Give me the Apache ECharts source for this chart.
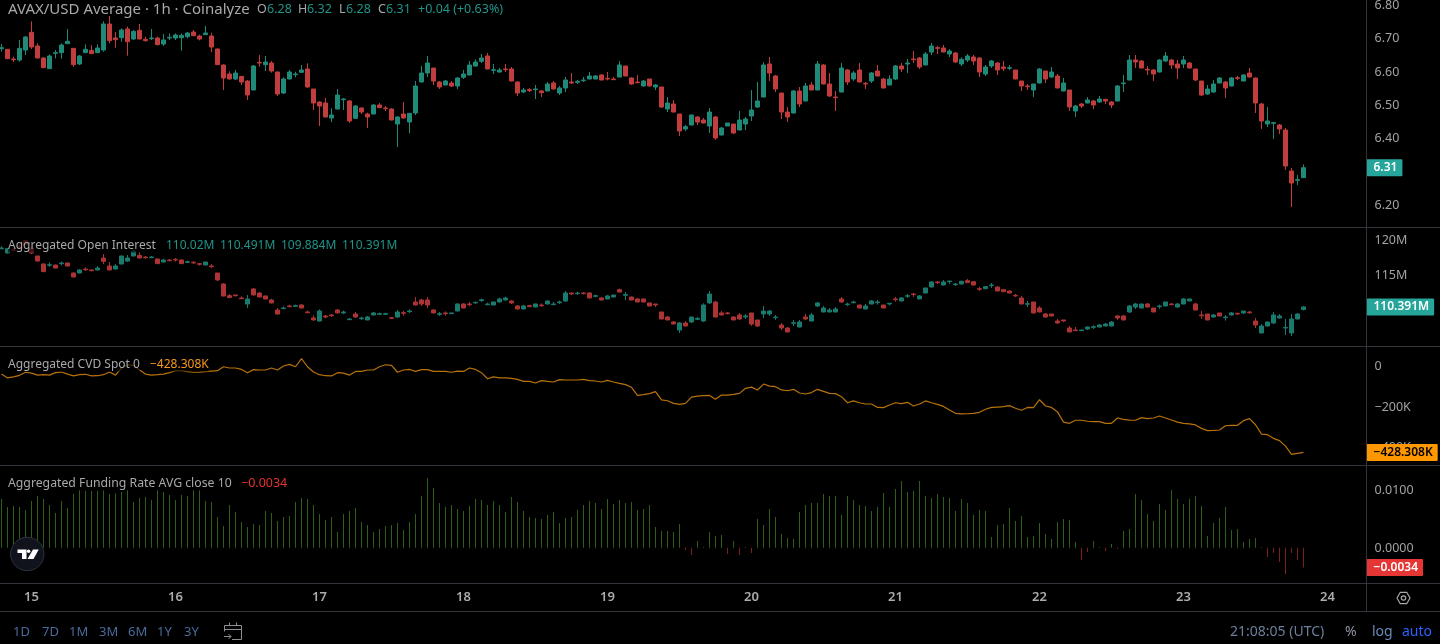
<!DOCTYPE html>
<html>
<head>
<meta charset="utf-8">
<title>AVAX/USD Average</title>
<script src="https://cdn.jsdelivr.net/npm/echarts@6/dist/echarts.min.js"></script>
<style>
html,body{margin:0;padding:0;background:#000;overflow:hidden}
#chart{width:1440px;height:644px}
</style>
</head>
<body>
<div id="chart"></div>
<script>
// Hourly candles, each row is [open, close, low, high]
const priceOHLC = [
[6.667,6.670,6.658,6.681],[6.665,6.637,6.636,6.665],[6.636,6.634,6.627,6.643],[6.633,6.668,6.628,6.693],[6.663,6.702,6.648,6.705],[6.716,6.672,6.666,6.749],[6.675,6.639,6.638,6.683],[6.639,6.610,6.609,6.641],[6.607,6.645,6.606,6.650],[6.653,6.655,6.638,6.663],
[6.655,6.678,6.637,6.683],[6.682,6.689,6.681,6.726],[6.668,6.619,6.613,6.669],[6.621,6.645,6.618,6.648],[6.655,6.665,6.654,6.680],[6.662,6.652,6.651,6.677],[6.655,6.669,6.654,6.680],[6.663,6.741,6.658,6.749],[6.741,6.691,6.683,6.765],[6.699,6.694,6.670,6.717],
[6.700,6.723,6.688,6.728],[6.726,6.688,6.646,6.733],[6.696,6.719,6.693,6.723],[6.722,6.696,6.695,6.741],[6.695,6.691,6.688,6.703],[6.697,6.699,6.693,6.726],[6.699,6.679,6.677,6.703],[6.681,6.693,6.675,6.711],[6.699,6.701,6.693,6.713],[6.699,6.708,6.693,6.713],
[6.700,6.707,6.661,6.713],[6.703,6.714,6.698,6.717],[6.717,6.706,6.705,6.723],[6.705,6.696,6.692,6.709],[6.709,6.714,6.708,6.735],[6.705,6.672,6.657,6.715],[6.666,6.619,6.618,6.668],[6.618,6.579,6.543,6.620],[6.591,6.576,6.575,6.599],[6.576,6.594,6.573,6.603],
[6.584,6.567,6.558,6.585],[6.570,6.528,6.513,6.573],[6.543,6.615,6.543,6.618],[6.626,6.624,6.613,6.648],[6.619,6.627,6.600,6.645],[6.624,6.600,6.595,6.630],[6.597,6.531,6.525,6.598],[6.534,6.576,6.531,6.581],[6.576,6.597,6.575,6.603],[6.589,6.591,6.581,6.598],
[6.596,6.603,6.595,6.618],[6.606,6.552,6.550,6.623],[6.546,6.504,6.483,6.546],[6.507,6.495,6.435,6.509],[6.504,6.462,6.461,6.519],[6.459,6.468,6.447,6.488],[6.486,6.528,6.485,6.546],[6.514,6.516,6.483,6.519],[6.510,6.450,6.444,6.513],[6.458,6.495,6.456,6.497],
[6.489,6.477,6.471,6.491],[6.471,6.462,6.429,6.475],[6.471,6.498,6.470,6.501],[6.498,6.490,6.489,6.504],[6.489,6.487,6.480,6.495],[6.486,6.453,6.452,6.488],[6.441,6.462,6.372,6.465],[6.471,6.459,6.458,6.507],[6.447,6.473,6.413,6.473],[6.474,6.555,6.468,6.570],
[6.567,6.594,6.566,6.615],[6.594,6.624,6.582,6.645],[6.609,6.570,6.558,6.609],[6.567,6.552,6.546,6.570],[6.558,6.570,6.557,6.573],[6.564,6.555,6.552,6.570],[6.555,6.579,6.546,6.581],[6.581,6.591,6.576,6.603],[6.588,6.618,6.587,6.630],[6.615,6.627,6.613,6.635],
[6.629,6.639,6.624,6.651],[6.645,6.606,6.605,6.654],[6.602,6.604,6.591,6.621],[6.597,6.603,6.595,6.609],[6.606,6.604,6.597,6.621],[6.606,6.570,6.569,6.612],[6.567,6.534,6.525,6.569],[6.537,6.543,6.534,6.549],[6.544,6.541,6.537,6.549],[6.544,6.546,6.516,6.558],
[6.540,6.535,6.522,6.543],[6.540,6.561,6.539,6.567],[6.564,6.546,6.545,6.570],[6.534,6.549,6.528,6.555],[6.549,6.573,6.537,6.582],[6.567,6.564,6.561,6.594],[6.566,6.569,6.561,6.573],[6.571,6.573,6.567,6.582],[6.576,6.585,6.575,6.597],[6.576,6.585,6.575,6.588],
[6.588,6.573,6.572,6.591],[6.578,6.576,6.572,6.597],[6.576,6.574,6.573,6.582],[6.582,6.618,6.581,6.630],[6.615,6.585,6.584,6.615],[6.579,6.561,6.558,6.581],[6.567,6.565,6.563,6.588],[6.555,6.570,6.554,6.573],[6.576,6.555,6.554,6.576],[6.552,6.558,6.543,6.561],
[6.552,6.492,6.489,6.552],[6.486,6.504,6.477,6.522],[6.501,6.477,6.476,6.513],[6.471,6.420,6.405,6.471],[6.426,6.433,6.420,6.438],[6.438,6.468,6.437,6.470],[6.462,6.447,6.438,6.465],[6.453,6.444,6.443,6.459],[6.435,6.477,6.414,6.489],[6.462,6.399,6.393,6.465],
[6.408,6.429,6.407,6.432],[6.435,6.444,6.435,6.444],[6.441,6.414,6.411,6.441],[6.423,6.453,6.422,6.480],[6.441,6.456,6.423,6.462],[6.465,6.483,6.450,6.543],[6.492,6.510,6.489,6.567],[6.522,6.618,6.521,6.627],[6.621,6.594,6.570,6.642],[6.585,6.546,6.537,6.588],
[6.534,6.477,6.456,6.534],[6.477,6.462,6.447,6.492],[6.474,6.540,6.473,6.543],[6.540,6.501,6.492,6.552],[6.510,6.555,6.509,6.564],[6.558,6.543,6.542,6.567],[6.543,6.621,6.542,6.630],[6.618,6.561,6.560,6.621],[6.561,6.525,6.522,6.594],[6.522,6.520,6.480,6.540],
[6.537,6.609,6.536,6.624],[6.603,6.567,6.558,6.606],[6.576,6.594,6.570,6.600],[6.603,6.567,6.566,6.624],[6.563,6.561,6.546,6.567],[6.570,6.594,6.564,6.597],[6.600,6.585,6.584,6.618],[6.576,6.549,6.548,6.579],[6.558,6.576,6.557,6.588],[6.576,6.615,6.573,6.618],
[6.615,6.606,6.597,6.624],[6.621,6.624,6.594,6.636],[6.636,6.634,6.624,6.660],[6.639,6.612,6.606,6.642],[6.618,6.651,6.617,6.657],[6.657,6.675,6.648,6.684],[6.670,6.668,6.651,6.675],[6.669,6.657,6.656,6.678],[6.651,6.660,6.642,6.666],[6.654,6.627,6.624,6.657],
[6.621,6.635,6.615,6.641],[6.633,6.645,6.627,6.651],[6.642,6.630,6.618,6.648],[6.639,6.597,6.582,6.642],[6.591,6.612,6.585,6.618],[6.615,6.630,6.609,6.633],[6.624,6.603,6.588,6.627],[6.612,6.607,6.600,6.630],[6.608,6.610,6.603,6.618],[6.603,6.576,6.575,6.603],
[6.570,6.555,6.540,6.570],[6.555,6.553,6.543,6.561],[6.543,6.561,6.522,6.561],[6.564,6.606,6.563,6.609],[6.600,6.576,6.564,6.600],[6.582,6.597,6.579,6.612],[6.585,6.549,6.548,6.591],[6.540,6.564,6.539,6.579],[6.543,6.492,6.480,6.543],[6.480,6.495,6.462,6.498],
[6.501,6.495,6.489,6.504],[6.504,6.513,6.503,6.522],[6.510,6.498,6.486,6.513],[6.507,6.516,6.506,6.525],[6.515,6.510,6.501,6.516],[6.507,6.498,6.489,6.510],[6.510,6.555,6.509,6.558],[6.562,6.564,6.537,6.588],[6.573,6.633,6.572,6.648],[6.633,6.627,6.609,6.648],
[6.630,6.609,6.608,6.633],[6.605,6.603,6.588,6.615],[6.603,6.591,6.570,6.606],[6.597,6.633,6.596,6.636],[6.630,6.645,6.627,6.657],[6.633,6.618,6.606,6.636],[6.621,6.609,6.576,6.633],[6.621,6.633,6.609,6.645],[6.624,6.609,6.608,6.627],[6.606,6.573,6.570,6.606],
[6.570,6.528,6.525,6.570],[6.531,6.546,6.528,6.558],[6.537,6.561,6.535,6.573],[6.564,6.579,6.563,6.582],[6.567,6.549,6.519,6.570],[6.555,6.579,6.554,6.582],[6.580,6.578,6.573,6.585],[6.570,6.588,6.569,6.591],[6.594,6.582,6.581,6.609],[6.579,6.504,6.474,6.580],
[6.501,6.450,6.426,6.504],[6.441,6.450,6.432,6.492],[6.443,6.445,6.396,6.447],[6.438,6.426,6.411,6.441],[6.423,6.315,6.303,6.429],[6.300,6.264,6.192,6.309],[6.272,6.274,6.258,6.288],[6.28,6.31,6.28,6.32]
];

// Open interest in millions, rows are [open, close, low, high]
const oiOHLC = [
[118.71,118.81,118.67,119.05],[118.10,118.71,118.05,118.81],[118.57,118.48,118.24,118.81],[119.05,118.81,118.62,119.29],[119.86,119.29,119.19,120.00],[118.81,118.10,117.95,118.90],[117.67,116.95,116.90,117.67],[116.52,115.43,115.38,116.62],[116.33,116.43,116.10,116.76],[116.38,115.95,115.90,116.43],
[116.57,116.67,116.33,116.86],[116.67,116.24,116.19,116.76],[115.24,114.67,114.62,115.33],[115.24,115.67,115.19,115.76],[115.81,115.71,115.52,116.05],[115.67,115.57,115.48,115.76],[115.67,115.95,115.62,116.24],[117.38,116.90,116.52,117.95],[116.24,115.67,115.62,116.81],[115.81,116.24,115.76,116.52],
[116.52,117.67,116.48,117.71],[116.95,117.38,116.81,117.81],[117.67,118.38,117.62,118.52],[117.76,117.38,117.33,118.24],[117.52,117.43,117.24,117.67],[117.43,117.52,117.38,117.67],[117.24,116.57,116.52,117.29],[116.81,117.10,116.76,117.24],[117.10,117.00,116.90,117.19],[117.19,117.10,116.86,117.38],
[117.10,116.57,116.52,117.19],[116.76,116.86,116.67,117.00],[116.76,116.67,116.57,116.95],[116.57,116.48,116.29,116.67],[116.38,116.81,116.33,116.81],[116.24,116.14,115.95,116.52],[115.24,114.24,114.10,115.24],[113.67,111.95,111.91,113.76],[112.00,111.72,111.67,112.24],[112.10,112.00,111.86,112.15],
[111.67,111.57,111.53,111.91],[110.81,111.53,110.24,112.10],[112.96,112.10,112.05,113.10],[112.38,111.81,111.77,112.52],[111.96,111.53,111.48,112.00],[111.38,110.96,110.91,111.57],[109.95,109.38,109.33,110.24],[110.14,110.24,110.10,110.48],[110.53,110.43,110.33,110.72],[110.48,110.58,110.38,110.72],
[110.67,110.24,110.19,110.77],[109.67,109.57,109.48,109.86],[108.81,108.53,108.43,109.19],[108.38,109.81,108.33,110.05],[109.10,108.95,108.76,109.24],[109.24,109.14,108.95,109.38],[109.95,109.53,109.48,110.10],[109.53,109.67,109.38,109.86],[108.57,108.67,108.53,108.81],[109.38,108.95,108.81,109.67],
[108.72,108.81,108.53,109.00],[108.53,108.95,108.48,109.10],[109.24,109.53,109.19,109.67],[109.33,109.43,109.24,109.57],[109.33,109.43,109.24,109.57],[108.86,108.76,108.67,108.95],[108.95,109.67,108.81,109.95],[109.57,109.48,109.14,109.86],[109.71,109.81,109.53,110.05],[111.10,110.67,110.62,111.81],
[111.38,110.81,110.53,111.53],[111.38,110.67,110.24,111.81],[109.95,109.53,109.48,110.10],[109.33,109.43,109.10,109.67],[109.53,109.43,109.14,109.76],[109.43,109.53,109.38,109.57],[109.81,110.81,109.76,110.91],[110.81,110.24,110.19,110.91],[110.81,110.72,110.48,111.10],[110.96,111.05,110.86,111.14],
[111.29,111.43,111.10,111.57],[110.72,110.81,110.62,111.00],[110.67,111.10,110.62,111.14],[111.10,111.53,111.05,111.72],[111.38,111.67,111.33,111.86],[111.24,110.96,110.81,111.38],[110.53,110.10,110.00,110.67],[110.10,110.53,110.05,110.72],[110.58,110.43,110.38,110.72],[110.38,110.81,110.33,110.86],
[110.67,110.58,110.38,110.91],[110.81,111.24,110.77,111.29],[110.72,110.81,110.62,111.10],[111.00,111.10,110.81,111.29],[111.24,112.38,111.10,112.67],[112.38,112.24,112.10,112.43],[112.29,112.38,112.10,112.57],[112.38,112.29,112.19,112.52],[112.38,111.67,111.62,112.52],[111.91,112.00,111.77,112.15],
[111.67,111.38,111.33,111.81],[111.53,111.96,111.48,112.10],[111.81,112.10,111.77,112.10],[112.86,112.52,112.48,113.00],[112.05,112.15,111.38,112.52],[111.81,111.38,111.33,111.86],[111.53,111.10,111.05,111.67],[111.53,111.10,111.05,111.57],[110.96,110.53,110.48,110.96],[110.81,110.67,110.38,110.81],
[109.67,108.67,108.62,109.67],[108.95,108.53,108.48,109.10],[108.24,107.95,107.91,108.38],[107.10,108.10,106.67,108.24],[108.10,107.67,107.62,108.38],[108.24,108.95,108.10,108.95],[108.62,108.76,108.53,108.95],[108.38,110.67,108.24,110.91],[110.96,112.24,110.81,112.67],[111.10,108.95,108.91,111.24],
[109.53,109.24,109.19,109.81],[109.53,109.43,109.33,109.67],[108.95,108.53,108.48,109.05],[109.24,108.67,108.53,109.53],[108.95,109.10,108.67,109.38],[109.53,107.95,107.67,109.53],[108.53,107.67,107.52,108.53],[109.38,109.81,108.81,110.53],[109.38,109.81,109.10,109.95],[108.86,108.95,108.53,109.24],
[107.81,107.38,107.10,108.10],[107.38,106.81,106.76,107.52],[108.05,108.14,107.67,108.53],[107.52,108.24,107.48,108.53],[108.95,108.67,108.53,109.38],[108.38,109.24,108.33,109.53],[110.53,110.96,110.38,111.10],[109.67,110.24,109.62,110.53],[109.67,109.95,109.62,110.24],[109.67,110.10,109.62,110.38],
[111.53,111.10,110.96,111.81],[110.72,110.81,110.53,111.00],[111.00,111.10,110.91,111.29],[110.67,110.24,110.19,110.67],[110.10,110.53,110.05,110.81],[110.81,111.24,110.77,111.38],[111.00,111.10,110.72,111.38],[110.67,110.24,110.19,110.67],[110.81,110.91,110.62,110.96],[111.53,111.43,111.14,111.81],
[111.24,111.67,111.19,111.81],[111.91,112.00,111.67,112.24],[112.24,112.15,111.81,112.38],[111.53,111.96,111.48,112.10],[112.38,113.10,112.33,113.10],[113.24,113.96,113.19,114.10],[113.96,113.86,113.67,114.10],[113.52,113.96,113.48,114.24],[114.00,114.10,113.67,114.10],[113.57,113.67,113.38,113.81],
[113.67,114.05,113.62,114.14],[114.14,113.86,113.81,114.38],[114.00,113.52,113.48,114.10],[113.00,112.91,112.67,113.24],[113.00,113.29,112.96,113.38],[113.43,113.52,113.10,113.81],[113.24,112.67,112.62,113.33],[112.86,112.57,112.52,112.96],[112.67,112.38,112.33,112.72],[112.05,111.96,111.81,112.24],
[111.67,110.81,110.77,111.96],[110.77,110.86,110.38,111.24],[111.10,109.53,109.48,111.10],[110.24,109.67,109.62,110.53],[109.38,108.95,108.91,109.53],[109.38,109.10,109.05,109.38],[108.38,108.10,107.95,108.67],[108.53,108.38,108.24,108.53],[107.38,106.81,106.76,107.67],[107.10,107.00,106.95,107.52],
[107.00,107.10,106.95,107.10],[107.24,107.52,107.10,107.57],[107.48,107.57,107.24,107.76],[107.52,107.81,107.48,107.95],[107.67,107.95,107.62,108.10],[107.67,108.24,107.62,108.38],[109.10,108.81,108.53,109.24],[109.10,108.53,108.48,109.24],[109.67,110.53,109.53,110.67],[110.38,110.81,110.10,110.96],
[110.24,110.81,110.19,110.81],[110.81,110.38,110.33,110.96],[110.24,109.67,109.62,110.24],[110.43,110.53,110.10,110.72],[110.53,111.10,110.48,111.10],[110.81,110.72,110.62,110.96],[110.38,110.81,110.33,110.96],[110.81,111.53,110.77,111.67],[111.24,111.53,111.19,111.53],[110.81,109.95,109.91,110.96],
[109.24,109.14,108.67,109.81],[109.38,108.53,108.48,109.38],[108.95,109.24,108.91,109.38],[109.53,109.10,109.05,109.53],[108.86,108.95,108.43,109.24],[109.24,109.53,109.19,109.67],[109.48,109.38,109.24,109.57],[109.53,109.81,109.38,109.81],[109.67,109.57,109.38,109.81],[108.38,107.81,107.38,108.81],
[106.67,107.67,106.62,107.95],[107.67,108.24,107.62,108.33],[108.10,109.24,107.95,109.67],[108.81,109.10,108.76,109.38],[107.38,107.48,106.38,108.67],[106.67,108.67,106.24,109.38],[108.67,109.38,108.62,109.53],[110.02,110.391,109.884,110.491]
];

// Spot cumulative volume delta, in thousands
const cvdSpot = [
-43,-62,-57,-49,-34,-38,-48,-46,-48,-36,-33,-43,-52,-46,-44,-52,-51,-46,-33,-48,
-13,2,0,-23,-43,-48,-46,-43,-36,-26,-26,-31,-34,-33,-31,-28,-26,-7,-13,-13,
-20,-36,-21,-23,-23,-13,-23,-3,5,-7,33,-7,-33,-46,-51,-52,-36,-38,-48,-30,
-30,-23,-23,-7,3,0,-34,-23,-20,-30,-21,-21,-30,-30,-30,-34,-28,-30,-13,-20,
-36,-66,-57,-62,-62,-64,-69,-79,-79,-87,-75,-79,-82,-70,-72,-72,-72,-69,-75,-77,
-82,-74,-82,-89,-95,-108,-148,-144,-139,-129,-170,-174,-187,-192,-187,-156,-151,-149,-148,-167,
-146,-146,-143,-138,-113,-107,-121,-92,-102,-105,-121,-125,-118,-136,-141,-134,-118,-128,-138,-139,
-154,-184,-175,-184,-190,-190,-207,-208,-195,-184,-188,-182,-200,-190,-175,-184,-192,-202,-220,-236,
-239,-238,-236,-231,-216,-207,-205,-203,-198,-211,-221,-207,-208,-169,-200,-207,-229,-279,-285,-270,
-270,-275,-277,-277,-285,-285,-259,-266,-269,-270,-257,-262,-259,-249,-259,-269,-279,-285,-288,-293,
-310,-321,-320,-318,-297,-295,-295,-272,-262,-292,-338,-341,-359,-370,-397,-438,-433,-428.308
];

// Funding rate, hourly
const fundingRate = [
.00839,.00701,.00718,.00701,.00649,.00805,.00891,.00839,.00736,.00598,.00805,.00684,.00925,.00994,.00983,.00977,.00983,.00994,.00925,.00937,
.00960,.00994,.00787,.00856,.00874,.00822,.00994,.00960,.00908,.00822,.00908,.00891,.00994,.00994,.00805,.00787,.00529,.00374,.00736,.00615,
.00443,.00356,.00408,.00391,.00632,.00598,.00460,.00529,.00546,.00787,.00856,.00839,.00736,.00580,.00477,.00529,.00270,.00580,.00632,.00684,
.00443,.00391,.00270,.00322,.00374,.00391,.00425,.00305,.00443,.00580,.00891,.01201,.01029,.00770,.00701,.00736,.00667,.00632,.00718,.00839,
.00822,.00736,.00805,.00736,.00615,.00874,.00787,.00632,.00529,.00511,.00494,.00563,.00615,.00425,.00511,.00529,.00649,.00736,.00805,.00770,
.00667,.00839,.00753,.00822,.00770,.00787,.00649,.00667,.00736,.00356,.00287,.00287,.00270,.00408,-.00040,-.00126,.00115,.00011,.00270,.00201,
.00218,-.00109,.00115,-.00126,.00011,-.00092,.00494,.00391,.00667,.00529,.00236,.00167,.00149,.00615,.00736,.00770,.00770,.00925,.00891,.00891,
.00563,.00891,.00822,.00736,.00718,.00632,.00701,.00943,.00701,.01011,.01149,.00960,.00977,.01149,.00891,.00856,.00925,.00874,.00856,.00632,
.00839,.00770,.00563,.00649,.00632,.00184,.00391,.00408,.00684,.00460,.00546,.00184,.00201,.00425,.00236,.00149,.00443,.00494,.00477,.00098,
-.00213,-.00075,.00115,.00011,-.00057,.00063,-.00023,.00287,.00322,.00925,.00822,.00580,.00460,.00753,.00649,.00994,.00839,.00753,.00839,.00891,
.00718,.00201,.00425,.00511,.00701,.00305,.00322,.00098,.00149,.00167,.00011,-.00161,-.00092,-.00247,-.00454,-.00092,-.00213,-.0034
];

const priceTicks = [6.2, 6.4, 6.5, 6.6, 6.7, 6.8];
const oiTicks = [115, 120];
const cvdTicks = [-400, -200, 0];
const fundingTicks = [0, 0.01];
const rangeButtons = ['1D', '7D', '1M', '3M', '6M', '1Y', '3Y'];

// Hour slots run from the 14th 19:00 and leave empty room after the last candle
const hourSlots = [];
for (let i = 0; i < 228; i++) {
  const t = i + 19;
  hourSlots.push({ day: 14 + Math.floor(t / 24), hour: t % 24 });
}
const categories = hourSlots.map(s => s.day + ' ' + s.hour);

const FONT = '"Noto Sans"';
const UP = '#1f8a78', DOWN = '#c23d3d';
const OI_UP = '#1a7a6e', OI_DOWN = '#ad3434';
const AXIS_TEXT = '#a3a3a6', RULE = '#34353c';
const minus = s => String(s).replace('-', '\u2212');

const grids = [
  { left: -1.5, width: 1368, top: 0, height: 227, outerBoundsMode: 'none' },
  { left: -1.5, width: 1368, top: 228, height: 118, outerBoundsMode: 'none' },
  { left: -1.5, width: 1368, top: 347, height: 118, outerBoundsMode: 'none' },
  { left: -1.5, width: 1368, top: 466, height: 117, outerBoundsMode: 'none' }
];

const xAxes = grids.map((g, i) => ({
  type: 'category', gridIndex: i, data: categories, boundaryGap: true,
  axisLine: { show: false }, axisTick: { show: false }, splitLine: { show: false },
  axisLabel: i < 3 ? { show: false } : {
    show: true, margin: 8, color: '#ababae', fontFamily: FONT, fontSize: 13, fontWeight: 600,
    interval: idx => hourSlots[idx].hour === 0,
    formatter: v => v.split(' ')[0]
  }
}));

function yAxis(i, min, max, ticks, fmt) {
  return {
    type: 'value', gridIndex: i, position: 'right', min, max, scale: true,
    axisLine: { show: false }, axisTick: { show: false }, splitLine: { show: false },
    axisLabel: {
      show: true, customValues: ticks, margin: 8, align: 'left',
      formatter: v => '{v|' + fmt(v) + '}',
      rich: { v: { color: AXIS_TEXT, fontFamily: FONT, fontSize: 12.5, padding: [2, 0, 0, 0] } }
    }
  };
}

// A value tag sitting on the right-hand scale at the series' last value
function lastValueTag(value, text, bg, fg) {
  return {
    silent: true, symbol: ['none', 'none'], animation: false, precision: 6,
    lineStyle: { color: 'transparent', width: 0 },
    data: [{ yAxis: value }],
    label: {
      show: true, position: 'end', distance: 0, formatter: text,
      backgroundColor: bg, color: fg, fontFamily: FONT, fontSize: 12, fontWeight: 600,
      padding: [1, 5, 1, 7], borderRadius: 1, lineHeight: 15
    },
    z: 50
  };
}

const lastPrice = priceOHLC[priceOHLC.length - 1];
const lastOi = oiOHLC[oiOHLC.length - 1];
const lastCvd = cvdSpot[cvdSpot.length - 1];
const lastFunding = fundingRate[fundingRate.length - 1];

const series = [
  {
    type: 'candlestick', xAxisIndex: 0, yAxisIndex: 0, data: priceOHLC, barWidth: 4, clip: false,
    itemStyle: { color: UP, color0: DOWN, borderColor: UP, borderColor0: DOWN, borderWidth: 1 },
    markLine: lastValueTag(lastPrice[1], lastPrice[1].toFixed(2), '#26a69a', '#fff')
  },
  {
    type: 'candlestick', xAxisIndex: 1, yAxisIndex: 1, data: oiOHLC, barWidth: 4, clip: false,
    itemStyle: { color: OI_UP, color0: OI_DOWN, borderColor: OI_UP, borderColor0: OI_DOWN, borderWidth: 1 },
    markLine: lastValueTag(lastOi[1], lastOi[1] + 'M', '#26a69a', '#fff')
  },
  {
    type: 'line', xAxisIndex: 2, yAxisIndex: 2, data: cvdSpot, showSymbol: false, symbol: 'none', smooth: false,
    lineStyle: { color: '#b8720a', width: 1.2 }, clip: false,
    markLine: lastValueTag(lastCvd, minus(lastCvd + 'K'), '#ff9800', '#000')
  },
  {
    type: 'bar', xAxisIndex: 3, yAxisIndex: 3, data: fundingRate, barWidth: 1,
    itemStyle: { color: p => p.value >= 0 ? '#2f5f14' : '#7c1f1f' },
    markLine: lastValueTag(lastFunding, minus(lastFunding.toFixed(4)), '#e53535', '#fff')
  }
];

// Legend text, dividers and chrome
const g = [];
function text(x, y, s, color, opt) {
  g.push({
    type: 'text', x, y, z: 100,
    style: Object.assign({
      text: s, fill: color, font: '12.5px ' + FONT, textVerticalAlign: 'middle', textAlign: 'left'
    }, opt || {})
  });
}
function rule(x1, y1, x2, y2) {
  g.push({ type: 'line', z: 90, shape: { x1, y1, x2, y2 }, style: { stroke: RULE, lineWidth: 1 } });
}
[227.5, 346.5, 465.5, 583.5, 611.5].forEach(y => rule(0, y, 1440, y));
rule(1366.5, 0, 1366.5, 611);

const TITLE = '#a9a9ac', TEAL = '#1f9488';
const shade = { backgroundColor: 'rgba(0,0,0,0.65)', padding: [1, 0, 1, 0] };
const small = { font: '12px ' + FONT };
text(8, 9.5, 'AVAX/USD Average \u00b7 1h \u00b7 Coinalyze', TITLE, { font: '15px ' + FONT });
[[257, 'O'], [298, 'H'], [339, 'L'], [378, 'C']].forEach(p => text(p[0], 9.5, p[1], TITLE));
[[267, lastPrice[0].toFixed(2)], [307, lastPrice[3].toFixed(2)], [346, lastPrice[2].toFixed(2)], [386, lastPrice[1].toFixed(2)], [418, '+0.04 (+0.63%)']]
  .forEach(p => text(p[0], 9.5, p[1], TEAL));

text(8, 245.5, 'Aggregated Open Interest', TITLE, Object.assign({}, shade, small));
[[166, lastOi[0] + 'M'], [220, lastOi[3] + 'M'], [281, lastOi[2] + 'M'], [342, lastOi[1] + 'M']]
  .forEach(p => text(p[0], 245.5, p[1], TEAL, small));

text(8, 364.5, 'Aggregated CVD Spot 0', TITLE, Object.assign({}, shade, small));
text(150, 364.5, '\u2212428.308K', '#f7981d', Object.assign({}, shade, small));

text(8, 483.5, 'Aggregated Funding Rate AVG close 10', TITLE, Object.assign({}, shade, { font: '12.25px ' + FONT }));
text(241, 483.5, minus(lastFunding.toFixed(4)), '#e5322d', shade);

[[13, 0], [42, 1], [69, 2], [99, 3], [128, 4], [157, 5], [184, 6]]
  .forEach(p => text(p[0], 632, rangeButtons[p[1]], '#4a6b9c', { font: '13px ' + FONT }));
text(1230, 632, '21:08:05 (UTC)', '#6c7f9c', { font: '14px ' + FONT });
text(1345, 632, '%', '#8e94a3', { font: '14px ' + FONT });
text(1372, 632, 'log', '#6c8ab8', { font: '14px ' + FONT });
text(1402, 632, 'auto', '#2962ff', { font: '14px ' + FONT });

// Logo badge
g.push({ type: 'circle', z: 95, shape: { cx: 27.3, cy: 554, r: 16.7 }, style: { fill: '#10131c', stroke: '#2e3240', lineWidth: 1 } });
g.push({ type: 'polygon', z: 96, shape: { points: [[17.5, 549.5], [26.5, 549.5], [26.5, 559], [22, 559], [22, 553], [17.5, 553]] }, style: { fill: '#fff' } });
g.push({ type: 'circle', z: 96, shape: { cx: 28.6, cy: 551.3, r: 1.8 }, style: { fill: '#fff' } });
g.push({ type: 'polygon', z: 96, shape: { points: [[33, 549.5], [38.7, 549.5], [33.5, 559], [27.5, 559]] }, style: { fill: '#fff' } });

// Date-range icon
const iconStroke = { fill: null, stroke: '#8e8e92', lineWidth: 1 };
[
  [[224.5, 631.5], [224.5, 625.5], [241.5, 625.5], [241.5, 639.5], [232, 639.5]],
  [[224.5, 629.5], [241.5, 629.5]],
  [[229.5, 622.5], [229.5, 626]],
  [[236.5, 622.5], [236.5, 626]],
  [[224, 636.5], [231, 636.5]],
  [[228.5, 634], [231, 636.5], [228.5, 639]]
].forEach(points => g.push({ type: 'polyline', z: 96, shape: { points }, style: iconStroke }));

// Settings icon
g.push({
  type: 'polygon', z: 96,
  shape: { points: [[1397, 598], [1400.3, 592.3], [1406.7, 592.3], [1410, 598], [1406.7, 603.7], [1400.3, 603.7]] },
  style: { fill: null, stroke: '#a9a9ac', lineWidth: 1.2 }
});
g.push({ type: 'circle', z: 96, shape: { cx: 1403.5, cy: 598, r: 2.2 }, style: { fill: null, stroke: '#a9a9ac', lineWidth: 1.2 } });

const chart = echarts.init(document.getElementById('chart'), null, { renderer: 'canvas' });
chart.setOption({
  animation: false,
  backgroundColor: '#000',
  tooltip: { show: false },
  grid: grids,
  xAxis: xAxes,
  yAxis: [
    yAxis(0, 6.132, 6.813, priceTicks, v => v.toFixed(2)),
    yAxis(1, 104.81, 121.667, oiTicks, v => v + 'M'),
    yAxis(2, -490, 90.2, cvdTicks, v => v === 0 ? '0' : minus(v) + 'K'),
    yAxis(3, -0.00609, 0.01408, fundingTicks, v => v.toFixed(4))
  ],
  series,
  graphic: g
});
</script>
</body>
</html>
